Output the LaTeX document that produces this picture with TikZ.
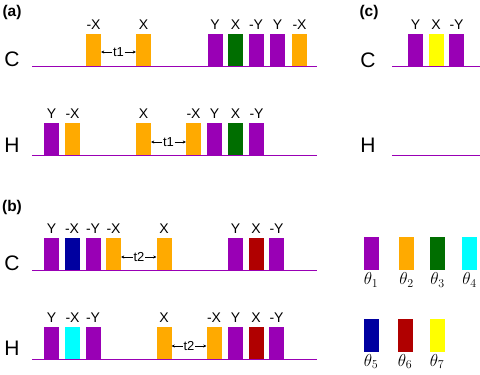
\documentclass[tikz,border=0pt]{standalone}
\usepackage[no-math]{fontspec}
\setmainfont{Liberation Sans}
\usepackage{tikz}
\usetikzlibrary{arrows.meta}
\definecolor{pPurple}{HTML}{9900B5}
\definecolor{pOrange}{HTML}{FFAA00}
\definecolor{pGreen}{HTML}{006E00}
\definecolor{pCyan}{HTML}{00FFFF}
\definecolor{pBlue}{HTML}{0000A0}
\definecolor{pRed}{HTML}{B00000}
\definecolor{pYellow}{HTML}{FFFF00}
\tikzset{
  pulse/.style={rectangle, minimum width=15pt, minimum height=32pt, inner sep=0pt, anchor=south},
  plabel/.style={font=\fontsize{14}{14}\selectfont, label distance=0.5pt},
  seqline/.style={draw=pPurple, line width=1pt},
  chan/.style={font=\fontsize{21}{21}\selectfont, inner sep=0pt},
  panel/.style={font=\bfseries\fontsize{15.5}{15.5}\selectfont, inner sep=0pt},
  delay/.style={font=\fontsize{13}{13}\selectfont, inner sep=0.5pt},
  delayarrow/.style={-{Stealth[length=3pt,width=3pt]}, thin},
  legbox/.style={rectangle, minimum width=15pt, minimum height=33pt, inner sep=0pt},
  leglabel/.style={font=\fontsize{18}{18}\selectfont, label distance=-1pt}
}
\newcommand{\pulse}[5]{\node[pulse, fill=#4, label={[plabel]above:#5}] (#1) at (#2,#3) {};}

\begin{document}
\begin{tikzpicture}[x=1pt, y=-1pt]
  \useasboundingbox (0,0) rectangle (480,375);
  % panel and channel labels
  \node[panel] (pa) at (12,12) {(a)};
  \node[panel] (pb) at (12,207) {(b)};
  \node[panel] (pc) at (369,12) {(c)};
  \node[chan] (aC) at (12,59) {C};
  \node[chan] (aH) at (12,145) {H};
  \node[chan] (bC) at (12,263) {C};
  \node[chan] (bH) at (12,348) {H};
  \node[chan] (cC) at (368,60) {C};
  \node[chan] (cH) at (368,145) {H};
  % base lines
  \foreach \y in {66,155,270,359}
    \draw[seqline] (32,\y) -- (317,\y);
  \foreach \y in {66,155}
    \draw[seqline] (392,\y) -- (480,\y);
  % (a) C
  \pulse{a1}{93.5}{66}{pOrange}{-X}
  \pulse{a2}{143.5}{66}{pOrange}{X}
  \pulse{a3}{215}{66}{pPurple}{Y}
  \pulse{a4}{235.5}{66}{pGreen}{X}
  \pulse{a5}{256}{66}{pPurple}{-Y}
  \pulse{a6}{277.5}{66}{pPurple}{Y}
  \pulse{a7}{299.5}{66}{pOrange}{-X}
  % (a) H
  \pulse{ah1}{51.5}{155}{pPurple}{Y}
  \pulse{ah2}{72.5}{155}{pOrange}{-X}
  \pulse{ah3}{143.5}{155}{pOrange}{X}
  \pulse{ah4}{193.5}{155}{pOrange}{-X}
  \pulse{ah5}{214.5}{155}{pPurple}{Y}
  \pulse{ah6}{235.5}{155}{pGreen}{X}
  \pulse{ah7}{256.5}{155}{pPurple}{-Y}
  % (c) C
  \pulse{c1}{415.5}{66}{pPurple}{Y}
  \pulse{c2}{436}{66}{pYellow}{X}
  \pulse{c3}{456.5}{66}{pPurple}{-Y}
  % (b) C
  \pulse{b1}{51.5}{270}{pPurple}{Y}
  \pulse{b2}{72}{270}{pBlue}{-X}
  \pulse{b3}{93}{270}{pPurple}{-Y}
  \pulse{b4}{113.5}{270}{pOrange}{-X}
  \pulse{b5}{164}{270}{pOrange}{X}
  \pulse{b6}{235.5}{270}{pPurple}{Y}
  \pulse{b7}{256}{270}{pRed}{X}
  \pulse{b8}{276.5}{270}{pPurple}{-Y}
  % (b) H
  \pulse{bh1}{51.5}{359}{pPurple}{Y}
  \pulse{bh2}{72.5}{359}{pCyan}{-X}
  \pulse{bh3}{93}{359}{pPurple}{-Y}
  \pulse{bh4}{164}{359}{pOrange}{X}
  \pulse{bh5}{214}{359}{pOrange}{-X}
  \pulse{bh6}{235.5}{359}{pPurple}{Y}
  \pulse{bh7}{256}{359}{pRed}{X}
  \pulse{bh8}{276.5}{359}{pPurple}{-Y}
  % delays
  \node[delay] (t1a) at (118.5,52) {t1};
  \node[delay] (t1b) at (168.5,142) {t1};
  \node[delay] (t2a) at (139,257) {t2};
  \node[delay] (t2b) at (189,346) {t2};
  \draw[delayarrow] (t1a.west) -- (a1.east |- t1a.west);
  \draw[delayarrow] (t1a.east) -- (a2.west |- t1a.east);
  \draw[delayarrow] (t1b.west) -- (ah3.east |- t1b.west);
  \draw[delayarrow] (t1b.east) -- (ah4.west |- t1b.east);
  \draw[delayarrow] (t2a.west) -- (b4.east |- t2a.west);
  \draw[delayarrow] (t2a.east) -- (b5.west |- t2a.east);
  \draw[delayarrow] (t2b.west) -- (bh4.east |- t2b.west);
  \draw[delayarrow] (t2b.east) -- (bh5.west |- t2b.east);
  % legend
  \node[legbox, fill=pPurple, label={[leglabel]below:$\theta_1$}] (l1) at (371,253.5) {};
  \node[legbox, fill=pOrange, label={[leglabel]below:$\theta_2$}] (l2) at (406.5,253.5) {};
  \node[legbox, fill=pGreen, label={[leglabel]below:$\theta_3$}] (l3) at (437.5,253.5) {};
  \node[legbox, fill=pCyan, label={[leglabel]below:$\theta_4$}] (l4) at (469.5,253.5) {};
  \node[legbox, fill=pBlue, label={[leglabel]below:$\theta_5$}] (l5) at (371,335) {};
  \node[legbox, fill=pRed, label={[leglabel]below:$\theta_6$}] (l6) at (405,335) {};
  \node[legbox, fill=pYellow, label={[leglabel]below:$\theta_7$}] (l7) at (437,335) {};
\end{tikzpicture}
\end{document}
